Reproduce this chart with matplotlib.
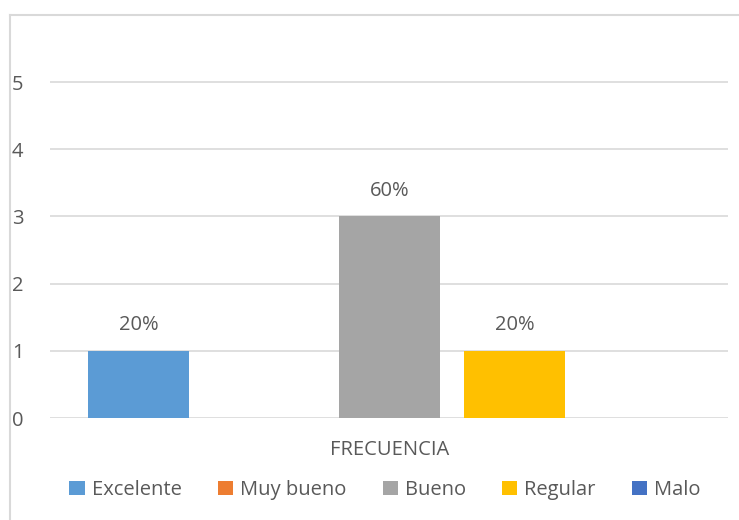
import numpy as np
import matplotlib.pyplot as plt
from matplotlib.lines import Line2D

categorias = ["Excelente", "Muy bueno", "Bueno", "Regular", "Malo"]
frecuencia = [1, 0, 3, 1, 0]
etiquetas = ["20%", "", "60%", "20%", ""]
colores = ["#5B9BD5", "#ED7D31", "#A5A5A5", "#FFC000", "#4472C4"]

plt.rcParams['font.family'] = ['Open Sans', 'DejaVu Sans']
gris = "#595959"
fs = 14.5

fig = plt.figure(figsize=(7.39, 5.2), dpi=100)
ax = fig.add_axes([50/739, 1-418/520, 678/739, (418-14.8)/520])

x = np.arange(len(categorias))
barras = ax.bar(x, frecuencia, width=0.805, color=colores, label=categorias, zorder=3)
for b, t in zip(barras, etiquetas):
    if t:
        ax.text(b.get_x() + b.get_width()/2, b.get_height() + 0.38, t,
                ha="center", va="center", fontsize=fs, color=gris)

ax.set_xlim(-0.705, 4.7)
ax.set_ylim(0, 6)
ax.set_yticks(range(6))
for v in range(6):
    ax.axhline(v, color="#d9d9d9", lw=1.2, zorder=1)
ax.set_xticks([])
for s in ax.spines.values():
    s.set_visible(False)
ax.tick_params(axis="y", length=0, labelsize=fs, labelcolor=gris, pad=19)

fig.text(390/739, 1-450/520, "FRECUENCIA", ha="center", va="center", fontsize=fs, color=gris)

leg = fig.legend(handles=barras, labels=categorias, loc="center", bbox_to_anchor=(385/739, 1-490/520),
                 ncol=5, frameon=False, fontsize=fs, handlelength=0.75, handleheight=0.75,
                 handletextpad=0.35, columnspacing=1.8, labelcolor=gris)

# marco del grafico
fig.add_artist(Line2D([10/739, 10/739], [0, 1-15/520], color="#d9d9d9", lw=1.5))
fig.add_artist(Line2D([10/739, 1], [1-15/520, 1-15/520], color="#d9d9d9", lw=1.5))

fig.savefig("out.png", dpi=100)
